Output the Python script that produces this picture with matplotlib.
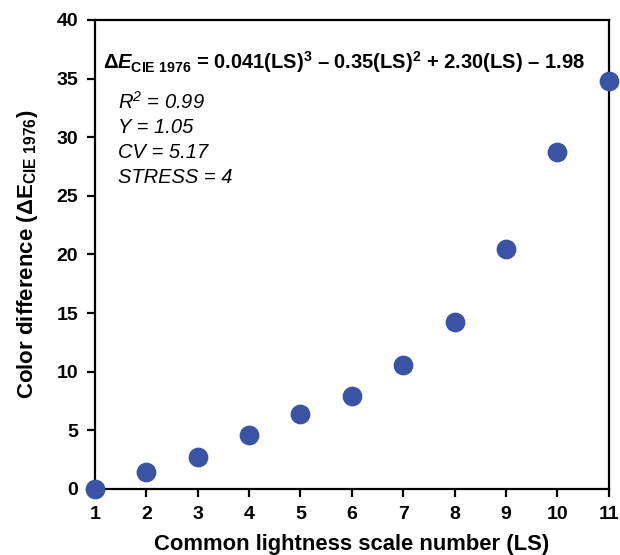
import matplotlib
matplotlib.use('Agg')
import matplotlib.pyplot as plt

# Data
ls_number = [1, 2, 3, 4, 5, 6, 7, 8, 9, 10, 11]
delta_e = [0.0, 1.45, 2.7, 4.6, 6.4, 7.9, 10.6, 14.2, 20.5, 28.7, 34.8]
x_ticks = [1, 2, 3, 4, 5, 6, 7, 8, 9, 10, 11]
y_ticks = [0, 5, 10, 15, 20, 25, 30, 35, 40]
stats_lines = ['$R^2$ = 0.99', 'Y = 1.05', 'CV = 5.17', 'STRESS = 4']

plt.rcParams['font.family'] = ['Liberation Sans', 'DejaVu Sans']
plt.rcParams['mathtext.fontset'] = 'custom'
plt.rcParams['mathtext.rm'] = 'Liberation Sans'
plt.rcParams['mathtext.it'] = 'Liberation Sans:italic:bold'
plt.rcParams['mathtext.bf'] = 'Liberation Sans:bold'
plt.rcParams['mathtext.default'] = 'regular'

fig = plt.figure(figsize=(6.2, 5.55), dpi=100)
ax = fig.add_axes([0.153, 0.119, 0.829, 0.845])

ax.scatter(ls_number, delta_e, s=175, color='#3a53a4', zorder=3, clip_on=False)

ax.set_xlim(1, 11)
ax.set_ylim(0, 40)
ax.set_xticks(x_ticks)
ax.set_yticks(y_ticks)
ax.tick_params(direction='out', length=6, width=1.6, labelsize=14, pad=6)
for lab in ax.get_xticklabels() + ax.get_yticklabels():
    lab.set_fontweight('bold')
for sp in ax.spines.values():
    sp.set_linewidth(1.6)

ax.set_xlabel('Common lightness scale number (LS)', fontsize=15.8, fontweight='bold', labelpad=8)
ax.set_ylabel('Color difference ($\\Delta$E$_{CIE\\ 1976}$)', fontsize=16, fontweight='bold', labelpad=12)

# Fitted equation
ax.text(1.15, 36.4,
        '$\\Delta\\mathit{E}_{CIE\\ 1976}$ = 0.041(LS)$^3$ \u2013 0.35(LS)$^2$ + 2.30(LS) \u2013 1.98',
        fontsize=14.5, fontweight='bold', va='center', ha='left')

# Statistics
for i, line in enumerate(stats_lines):
    ax.text(1.45, 33.0 - i * 2.15, line, fontsize=14.5, style='italic',
            va='center', ha='left')

fig.savefig('out.png', dpi=100)
